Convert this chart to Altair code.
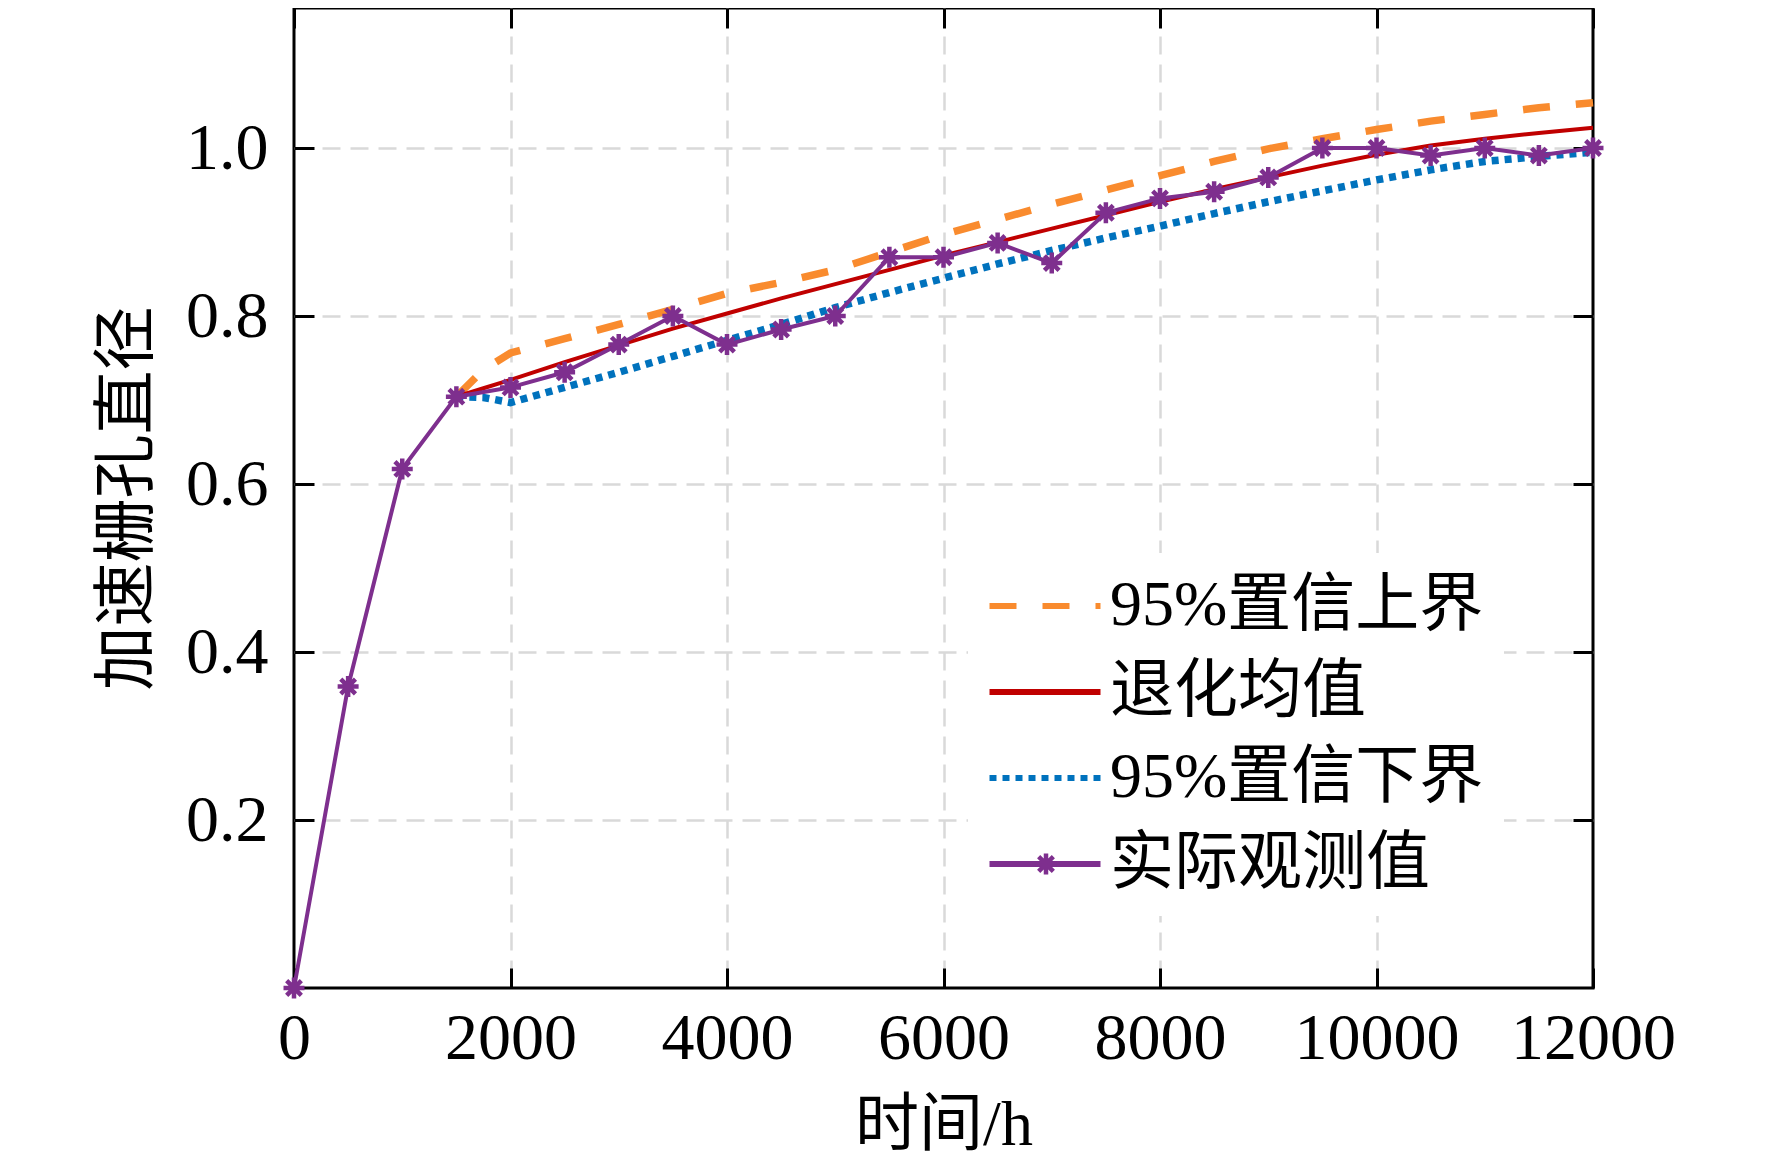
import altair as alt
import pandas as pd

# ---------------- data ----------------
series_names = ["95%置信上界", "退化均值", "95%置信下界", "实际观测值"]

hours_obs = [0, 500, 1000, 1500, 2000, 2500, 3000, 3500, 4000, 4500, 5000, 5500,
             6000, 6500, 7000, 7500, 8000, 8500, 9000, 9500, 10000, 10500, 11000,
             11500, 12000]
observed = [0.0, 0.359, 0.618, 0.704, 0.715, 0.733, 0.766, 0.800, 0.766, 0.784,
            0.800, 0.870, 0.870, 0.887, 0.863, 0.923, 0.940, 0.948, 0.965, 1.000,
            1.000, 0.991, 1.000, 0.991, 1.000]

hours_fit = [1500, 1750, 2000, 2500, 3000, 3500, 4000, 4500, 5000, 5500, 6000,
             6500, 7000, 7500, 8000, 8500, 9000, 9500, 10000, 10500, 11000, 11500,
             12000]
upper = [0.704, 0.736, 0.756, 0.773, 0.790, 0.808, 0.827, 0.840, 0.855, 0.876,
         0.897, 0.915, 0.933, 0.950, 0.967, 0.984, 0.999, 1.011, 1.022, 1.032,
         1.040, 1.048, 1.054]
mean = [0.704, 0.714, 0.724, 0.745, 0.765, 0.785, 0.803, 0.821, 0.838, 0.855,
        0.872, 0.888, 0.904, 0.920, 0.936, 0.951, 0.965, 0.979, 0.992, 1.003,
        1.011, 1.018, 1.024]
lower = [0.704, 0.703, 0.697, 0.715, 0.733, 0.752, 0.771, 0.790, 0.810, 0.828,
         0.845, 0.862, 0.878, 0.893, 0.907, 0.922, 0.936, 0.949, 0.962, 0.974,
         0.984, 0.990, 0.995]

x_ticks = [0, 2000, 4000, 6000, 8000, 10000, 12000]
x_grid = [2000, 4000, 6000, 8000, 10000]
y_ticks = [0.2, 0.4, 0.6, 0.8, 1.0]

# ---------------- tables ----------------
bounds_df = pd.DataFrame({
    "t": hours_fit + hours_fit,
    "v": upper + lower,
    "series": [series_names[0]] * len(hours_fit) + [series_names[2]] * len(hours_fit),
})
mean_df = pd.DataFrame({"t": hours_fit, "v": mean, "series": series_names[1]})
obs_df = pd.DataFrame({"t": hours_obs, "v": observed, "series": series_names[3]})

# ---------------- styles ----------------
W, H = 1299, 980
FONT = "Liberation Serif, Noto Sans CJK SC"
colors = ["#F98B2E", "#C00000", "#0072BD", "#7E2F8E"]
dashes = [[27, 26], [1, 0], [7, 6], [1, 0]]
GRID = "#D9D9D9"

STAR = "M-1,0L1,0M0,-1L0,1M-0.7,-0.7L0.7,0.7M-0.7,0.7L0.7,-0.7"
LEG_LINE = "M-1.05,0H2.65"

x_scale = alt.Scale(domain=[0, 12000], nice=False, zero=False)
y_scale = alt.Scale(domain=[0, 1.1667], nice=False, zero=False)
color_scale = alt.Scale(domain=series_names, range=colors)
dash_scale = alt.Scale(domain=series_names, range=dashes)
star_scale = alt.Scale(domain=[series_names[3]], range=[STAR])

# main legend (lines)
legend = alt.Legend(
    title=None, orient="none", legendX=674, legendY=545, direction="vertical",
    labelFont=FONT, labelFontSize=64, labelColor="black", labelLimit=1000,
    labelOffset=56, symbolSize=3600, padding=20, fillColor="white",
    rowPadding=21, symbolType=LEG_LINE, symbolStrokeWidth=6,
)
# marker legend laid over the last legend entry (the star on the purple line)
star_legend = alt.Legend(
    title=None, orient="none", legendX=739, legendY=843, padding=0,
    symbolSize=440, symbolStrokeWidth=4.5, symbolStrokeColor=colors[3],
    symbolFillColor="transparent", labelOpacity=0, labelFontSize=1,
    labelOffset=0,
)

ax_x_labels = alt.Axis(
    values=x_ticks, orient="bottom", format="d", title="时间/h", labelFont=FONT,
    labelFontSize=66, labelColor="black", labelPadding=18, labelLimit=500,
    ticks=False, tickSize=0, domain=False, grid=False, labelFlush=False,
    labelOverlap=False, titleFont=FONT, titleFontSize=64,
    titleFontWeight="normal", titleColor="black", titleX=W / 2, titleY=137,
    titleBaseline="middle", titleAlign="center",
)
ax_y_labels = alt.Axis(
    values=y_ticks, orient="left", format=".1f", title="加速栅孔直径",
    labelFont=FONT, labelFontSize=66, labelColor="black", labelPadding=26,
    ticks=False, tickSize=0, domain=False, grid=False, labelFlush=False,
    labelOverlap=False, titleFont=FONT, titleFontSize=64,
    titleFontWeight="normal", titleColor="black", titleX=-167, titleY=H / 2,
    titleBaseline="middle", titleAlign="center", titleAngle=270,
)
ax_x_grid = alt.Axis(values=x_grid, orient="bottom", title=None, labels=False,
                     ticks=False, domain=False, grid=True, gridColor=GRID,
                     gridDash=[18, 10], gridWidth=2.5)
ax_y_grid = alt.Axis(values=y_ticks, orient="left", title=None, labels=False,
                     ticks=False, domain=False, grid=True, gridColor=GRID,
                     gridDash=[18, 10], gridWidth=2.5)
tick_kw = dict(title=None, labels=False, ticks=True, tickSize=20, tickWidth=3,
               tickColor="black", domain=False, grid=False)
ax_x_in_bottom = alt.Axis(values=x_ticks, orient="top", offset=-H, **tick_kw)
ax_x_in_top = alt.Axis(values=x_ticks, orient="bottom", offset=-H, **tick_kw)
ax_y_in_left = alt.Axis(values=y_ticks, orient="right", offset=-W, **tick_kw)
ax_y_in_right = alt.Axis(values=y_ticks, orient="left", offset=-W, **tick_kw)

bounds = alt.Chart(bounds_df).mark_line(strokeWidth=7.5, strokeCap="butt").encode(
    x=alt.X("t:Q", scale=x_scale, axis=ax_x_labels),
    y=alt.Y("v:Q", scale=y_scale, axis=ax_y_labels),
    color=alt.Color("series:N", scale=color_scale, legend=legend),
    strokeDash=alt.StrokeDash("series:N", scale=dash_scale, legend=legend),
    detail="series:N",
)
mean_line = alt.Chart(mean_df).mark_line(strokeWidth=4).encode(
    x=alt.X("t:Q", scale=x_scale, axis=ax_x_grid),
    y=alt.Y("v:Q", scale=y_scale, axis=ax_y_grid),
    color=alt.Color("series:N", scale=color_scale, legend=None),
)
obs_line = alt.Chart(obs_df).mark_line(strokeWidth=4).encode(
    x=alt.X("t:Q", scale=x_scale, axis=ax_x_in_bottom),
    y=alt.Y("v:Q", scale=y_scale, axis=ax_y_in_left),
    color=alt.Color("series:N", scale=color_scale, legend=None),
)
stars = alt.Chart(obs_df).mark_point(
    size=440, filled=False, strokeWidth=4.5, color=colors[3], opacity=1,
).encode(
    x=alt.X("t:Q", scale=x_scale, axis=ax_x_in_top),
    y=alt.Y("v:Q", scale=y_scale, axis=ax_y_in_right),
    shape=alt.Shape("series:N", scale=star_scale, legend=star_legend),
)

chart = alt.layer(bounds, mean_line, obs_line, stars).resolve_scale(
    x="shared", y="shared"
).resolve_axis(
    x="independent", y="independent"
).properties(
    width=W, height=H,
    autosize=alt.AutoSizeParams(type="none"),
    padding={"left": 286, "top": 0, "right": 160, "bottom": 171},
    background="white",
).configure_view(
    stroke="black", strokeWidth=3
)

chart.save("out.html", embed_options={"renderer": "svg", "actions": False})
